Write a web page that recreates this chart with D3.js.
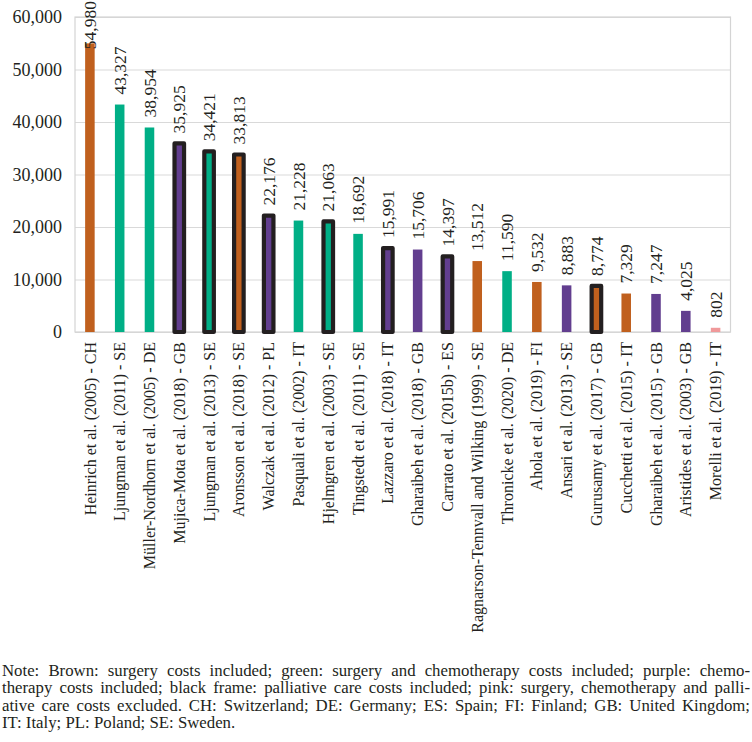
<!DOCTYPE html>
<html><head><meta charset="utf-8">
<script src="https://cdn.jsdelivr.net/npm/d3@7"></script>
<style>body{margin:0;background:#fff} svg{display:block}</style>
</head><body>
<svg id="c" width="752" height="742"></svg>
<script>
const categories = ["Heinrich et al. (2005) - CH", "Ljungman et al. (2011) - SE", "Müller-Nordhorn et al. (2005) - DE", "Mujica-Mota et al. (2018) - GB", "Ljungman et al. (2013) - SE", "Aronsson et al. (2018) - SE", "Walczak et al. (2012) - PL", "Pasquali et al. (2002) - IT", "Hjelmgren et al. (2003) - SE", "Tingstedt et al. (2011) - SE", "Lazzaro et al. (2018) - IT", "Gharaibeh et al. (2018) - GB", "Carrato et al. (2015b) - ES", "Ragnarson-Tennvall and Wilking (1999) - SE", "Thronicke et al. (2020) - DE", "Ahola et al. (2019) - FI", "Ansari et al. (2013) - SE", "Gurusamy et al. (2017) - GB", "Cucchetti et al. (2015) - IT", "Gharaibeh et al. (2015) - GB", "Aristides et al. (2003) - GB", "Morelli et al. (2019) - IT"];
const values = [54980, 43327, 38954, 35925, 34421, 33813, 22176, 21228, 21063, 18692, 15991, 15706, 14397, 13512, 11590, 9532, 8883, 8774, 7329, 7247, 4025, 802];
// S: surgery (brown), SC: surgery+chemo (green), C: chemo (purple), N: none (pink)
const costTypes = ["S","SC","SC","C","SC","S","C","SC","SC","SC","C","C","C","S","SC","S","C","S","S","C","C","N"];
const palliative = [0,0,0,1,1,1,1,0,1,0,1,0,1,0,0,0,0,1,0,0,0,0];
const yTicks = [0, 10000, 20000, 30000, 40000, 50000, 60000];
const noteLines = [
  "Note: Brown: surgery costs included; green: surgery and chemotherapy costs included; purple: chemo-",
  "therapy costs included; black frame: palliative care costs included; pink: surgery, chemotherapy and palli-",
  "ative care costs excluded. CH: Switzerland; DE: Germany; ES: Spain; FI: Finland; GB: United Kingdom;",
  "IT: Italy; PL: Poland; SE: Sweden."
];

const FONT = '"Liberation Serif"';
const TXT = "#231f20";
const colors = {S:"#C0601E", SC:"#00AF86", C:"#623E8F", N:"#F0999A"};
const L = 75, R = 730.5, T = 17, B = 332;

const svg = d3.select("#c");
const x = d3.scaleBand().domain(categories).range([L, R]).paddingInner(0.68).paddingOuter(0.34);
const y = d3.scaleLinear().domain([0, 60000]).range([B, T]);

// gridlines + y labels
const ga = svg.append("g").attr("transform", `translate(${L},0)`)
  .call(d3.axisLeft(y).tickValues(yTicks).tickFormat(d3.format(",")).tickSize(-(R - L)).tickPadding(13));
ga.attr("font-family", null).attr("font-size", null);
ga.select(".domain").remove();
ga.selectAll(".tick line").attr("stroke", "#d9d9d9").attr("stroke-width", 1.2);
ga.selectAll(".tick text").attr("fill", TXT).style("font-family", FONT).style("font-size", "18px");

// plot border
svg.append("rect").attr("x", L).attr("y", T).attr("width", R - L).attr("height", B - T)
  .attr("fill", "none").attr("stroke", "#d4d4d4").attr("stroke-width", 1.2);

const data = categories.map((c, i) => ({c, v: values[i], t: costTypes[i], f: palliative[i]}));

// bars
svg.append("g").selectAll("rect").data(data).join("rect")
  .attr("x", d => x(d.c)).attr("width", x.bandwidth())
  .attr("y", d => y(d.v)).attr("height", d => y(0) - y(d.v))
  .attr("fill", d => colors[d.t])
  .attr("stroke", d => d.f ? "#231f20" : "none")
  .attr("stroke-width", d => d.f ? 4.2 : 0)
  .attr("stroke-linejoin", "round");

// value labels
const vl = svg.append("g").selectAll("text").data(data).join("text")
  .attr("text-anchor", "start").attr("dy", "0.35em")
  .attr("fill", TXT).style("font-family", FONT).style("font-size", "17.5px")
  .text(d => d3.format(",")(d.v));
vl.each(function(d) {
  const len = this.getComputedTextLength();
  let start = y(d.v) - 10;
  if (start - len < 0) start = len + 1;
  d3.select(this).attr("transform", `translate(${x(d.c) + x.bandwidth() / 2},${start}) rotate(-90)`);
});

// category labels
svg.append("g").selectAll("text").data(data).join("text")
  .attr("transform", d => `translate(${x(d.c) + x.bandwidth() / 2},342) rotate(-90)`)
  .attr("text-anchor", "end").attr("dy", "0.35em")
  .attr("fill", TXT).style("font-family", FONT).style("font-size", "16px")
  .text(d => d.c);

// note, justified (condensed horizontally when a line would not fit)
const FS = 16.8, baseY = 675.5, lh = 17.6, NL = 2, NR = 750;
const avail = NR - NL;
const noteG = svg.append("g");
noteLines.forEach((line, li) => {
  const words = line.split(" ");
  const t = noteG.append("text").attr("fill", TXT)
    .style("font-family", FONT).style("font-size", FS + "px");
  const spans = words.map(w => t.append("tspan").attr("y", 0).text(w));
  const widths = spans.map(s => s.node().getComputedTextLength());
  const total = d3.sum(widths);
  const minGap = 0.2 * FS;
  const last = li === noteLines.length - 1;
  let gap, s = 1;
  if (last) {
    gap = 0.25 * FS;
  } else {
    const need = total + minGap * (words.length - 1);
    if (need > avail) { s = avail / need; gap = minGap; }
    else gap = (avail - total) / (words.length - 1);
  }
  let cx = 0;
  spans.forEach((sp, i) => { sp.attr("x", cx); cx += widths[i] + gap; });
  t.attr("transform", `translate(${NL},${baseY + li * lh}) scale(${s},1)`);
});
</script>
</body></html>
